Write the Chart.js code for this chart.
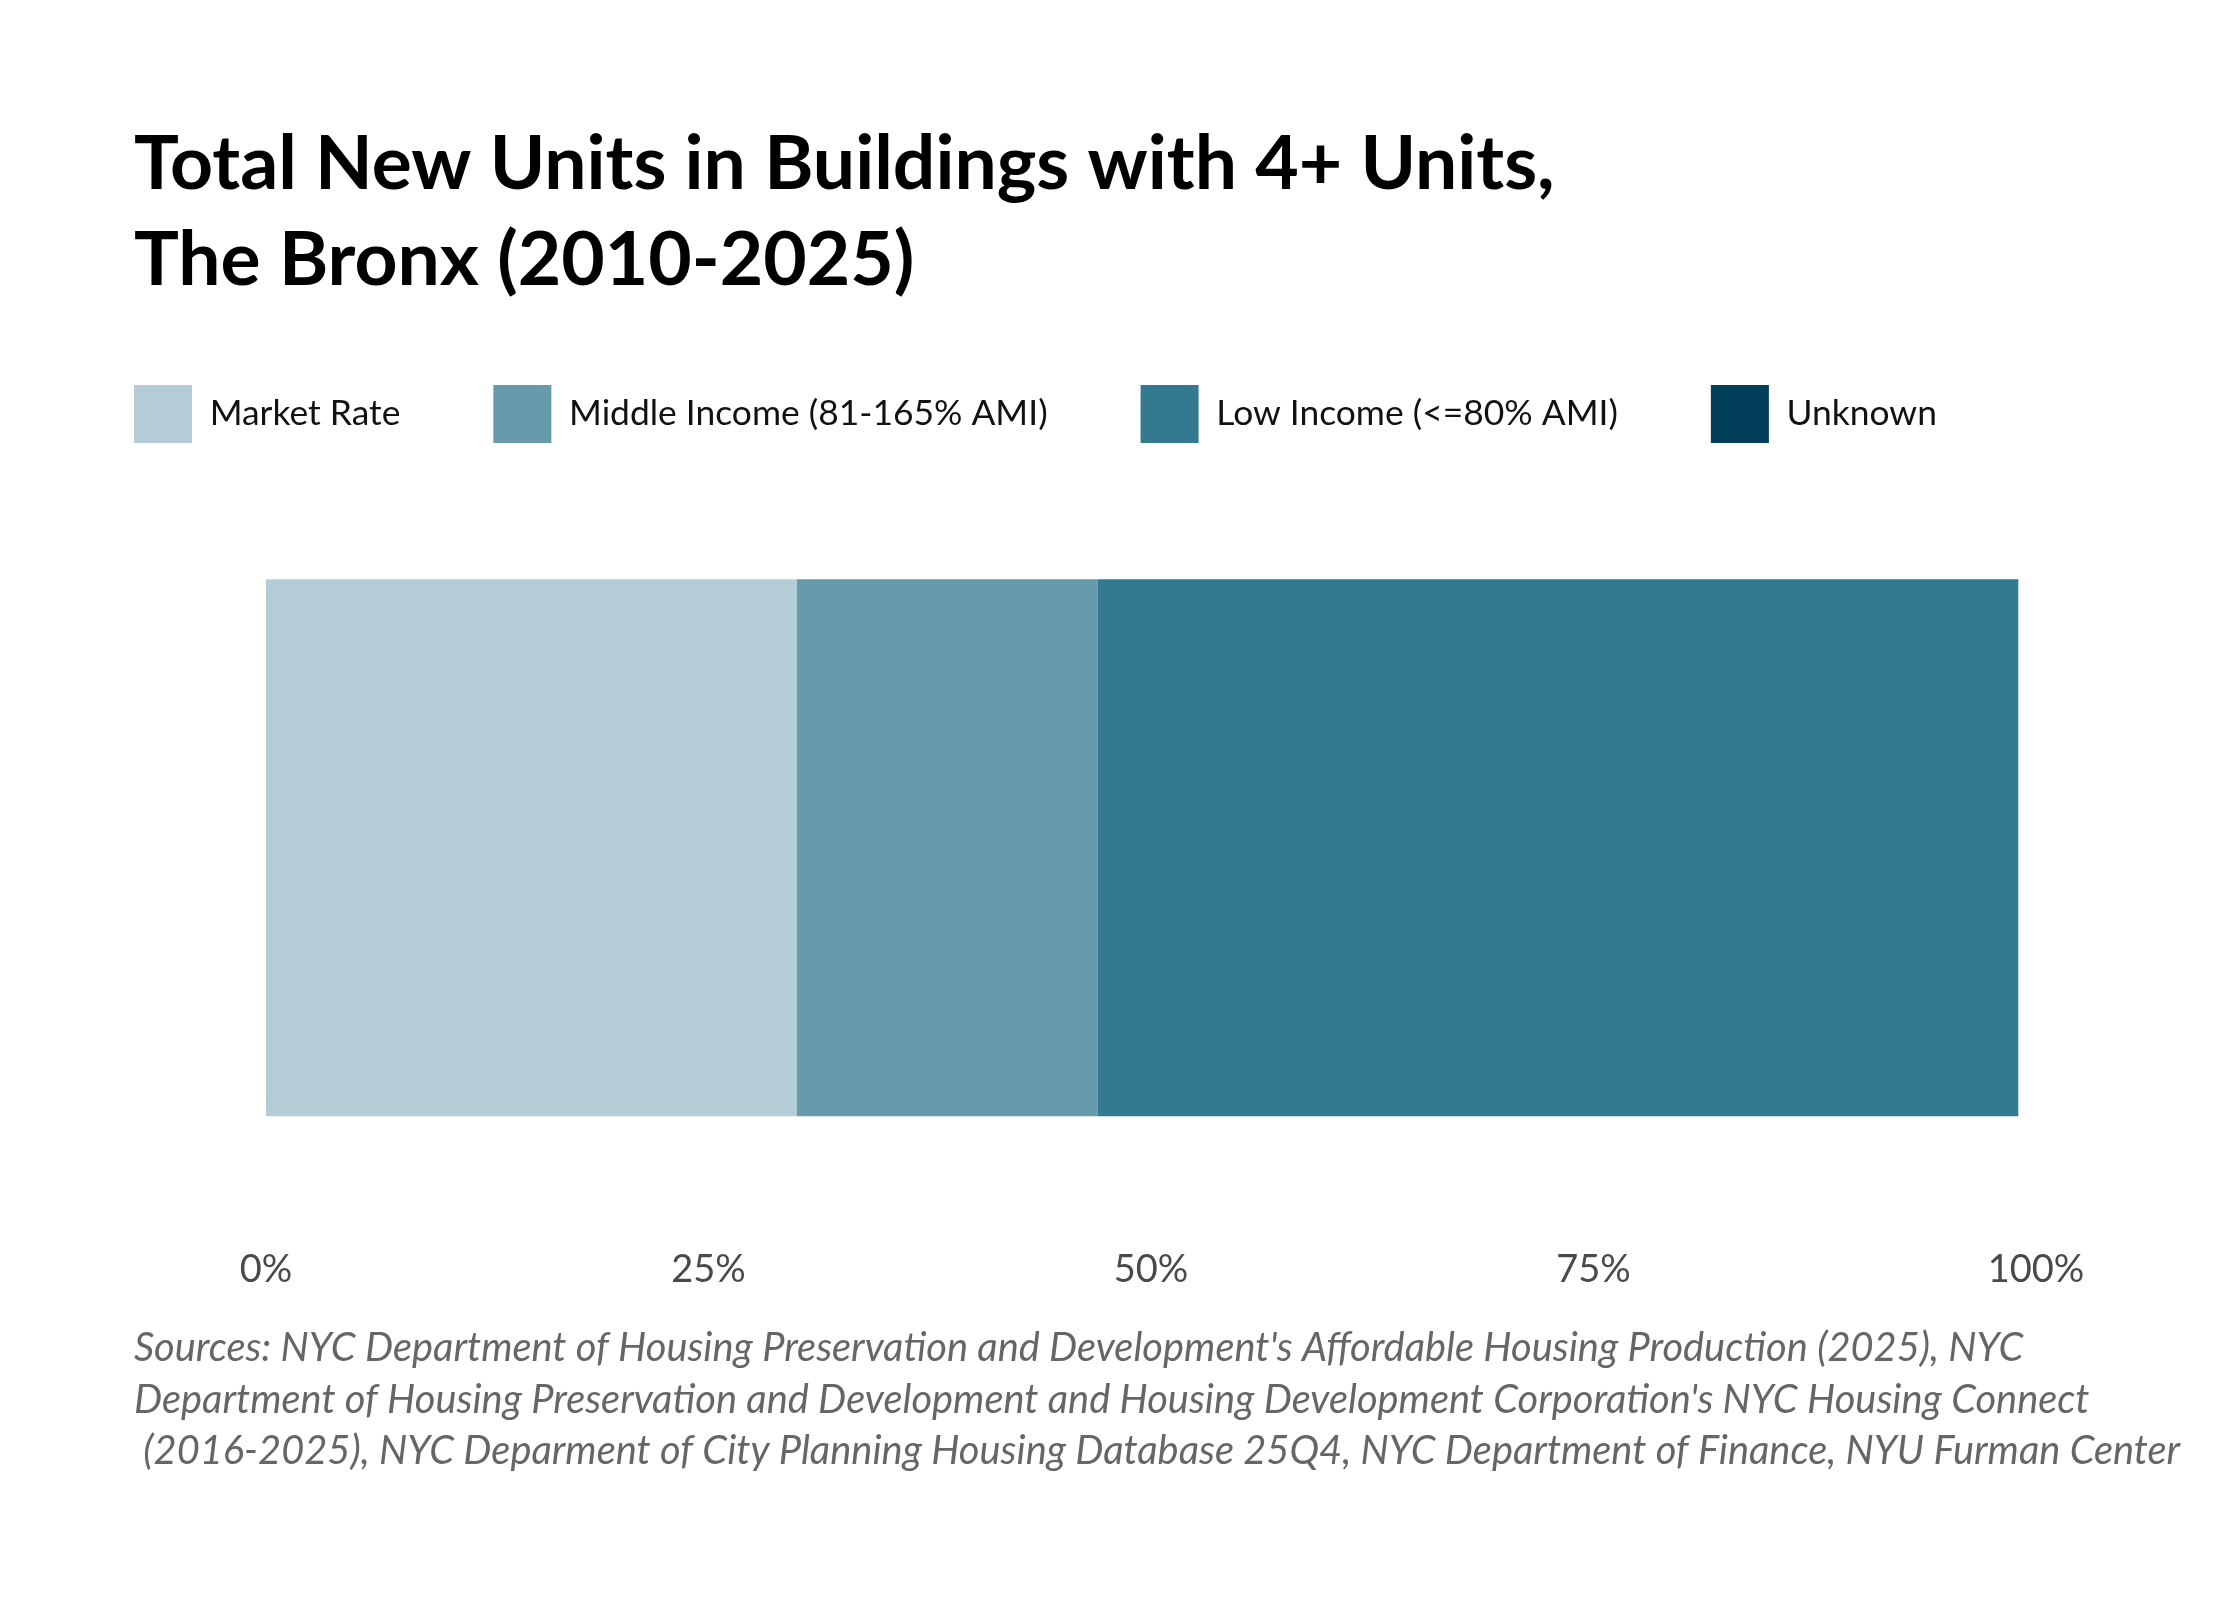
<!DOCTYPE html>
<html>
<head>
<meta charset="utf-8">
<script src="https://cdn.jsdelivr.net/npm/chart.js@4/dist/chart.umd.min.js"></script>
<style>
  html, body { margin: 0; padding: 0; background: #fff; }
</style>
</head>
<body>
<canvas id="myChart" width="2240" height="1600"></canvas>
<script>
// data (shares of new units, %)
const categories = ['The Bronx'];
const seriesNames = ['Market Rate', 'Middle Income (81-165% AMI)', 'Low Income (<=80% AMI)', 'Unknown'];
const marketRate = [30];
const middleIncome = [17];
const lowIncome = [52];
const unknown = [0];
const tickValues = [0, 25, 50, 75, 100];

const titleLines = ['Total New Units in Buildings with 4+ Units,', 'The Bronx (2010-2025)'];
const sourceLines = [
  "Sources: NYC Department of Housing Preservation and Development's Affordable Housing Production (2025), NYC",
  "Department of Housing Preservation and Development and Housing Development Corporation's NYC Housing Connect",
  " (2016-2025), NYC Deparment of City Planning Housing Database 25Q4, NYC Department of Finance, NYU Furman Center"
];

const colors = ['#b4ccd6', '#679bac', '#33798f', '#023f5a'];
const FONT = 'Lato, "Noto Sans", sans-serif';

// legend starts at left edge instead of left + padding
const legendShift = {
  id: 'legendShift',
  afterLayout(chart) {
    const lg = chart.legend;
    const pad = lg.options.labels.padding;
    lg.left -= pad;
    lg.right -= pad;
    lg.top -= 17;
    lg.bottom -= 17;
  }
};

const ctx = document.getElementById('myChart');
new Chart(ctx, {
  type: 'bar',
  data: {
    labels: categories,
    datasets: [marketRate, middleIncome, lowIncome, unknown].map((d, i) => ({
      label: seriesNames[i],
      data: d,
      backgroundColor: colors[i],
      borderWidth: 0,
      barPercentage: 0.711,
      categoryPercentage: 1
    }))
  },
  options: {
    responsive: false,
    devicePixelRatio: 1,
    animation: false,
    indexAxis: 'y',
    layout: { padding: { left: 134, right: 20, top: 0, bottom: 0 } },
    scales: {
      x: {
        stacked: true,
        min: 0,
        max: 100,
        afterBuildTicks: (s) => { s.ticks = tickValues.map(v => ({ value: v })); },
        grid: { display: false, drawTicks: false },
        border: { display: false },
        ticks: {
          padding: 22,
          color: '#4a4a4a',
          font: { family: FONT, size: 38 },
          callback: (v) => v + '%'
        }
      },
      y: {
        stacked: true,
        grid: { display: false, drawTicks: false },
        border: { display: false },
        ticks: { display: false },
        afterFit: (s) => { s.width = 132; }
      },
      y2: {
        position: 'right',
        display: true,
        grid: { display: false, drawTicks: false },
        border: { display: false },
        ticks: { display: false },
        afterFit: (s) => { s.width = 184; }
      }
    },
    plugins: {
      tooltip: { enabled: false },
      title: {
        display: true,
        text: titleLines,
        align: 'start',
        color: '#000',
        font: { family: FONT, size: 75, weight: 'bold', lineHeight: 1.28 },
        padding: { top: 117, bottom: 0 }
      },
      legend: {
        display: true,
        position: 'top',
        align: 'start',
        labels: {
          boxWidth: 58,
          boxHeight: 58,
          padding: 93,
          color: '#111',
          font: { family: FONT, size: 35.4 }
        }
      },
      subtitle: {
        display: true,
        position: 'bottom',
        text: sourceLines,
        align: 'start',
        color: '#666',
        font: { family: FONT, size: 39.8, style: 'italic', lineHeight: 1.29 },
        padding: { top: 8, bottom: 123 }
      }
    }
  },
  plugins: [legendShift]
});
</script>
</body>
</html>
